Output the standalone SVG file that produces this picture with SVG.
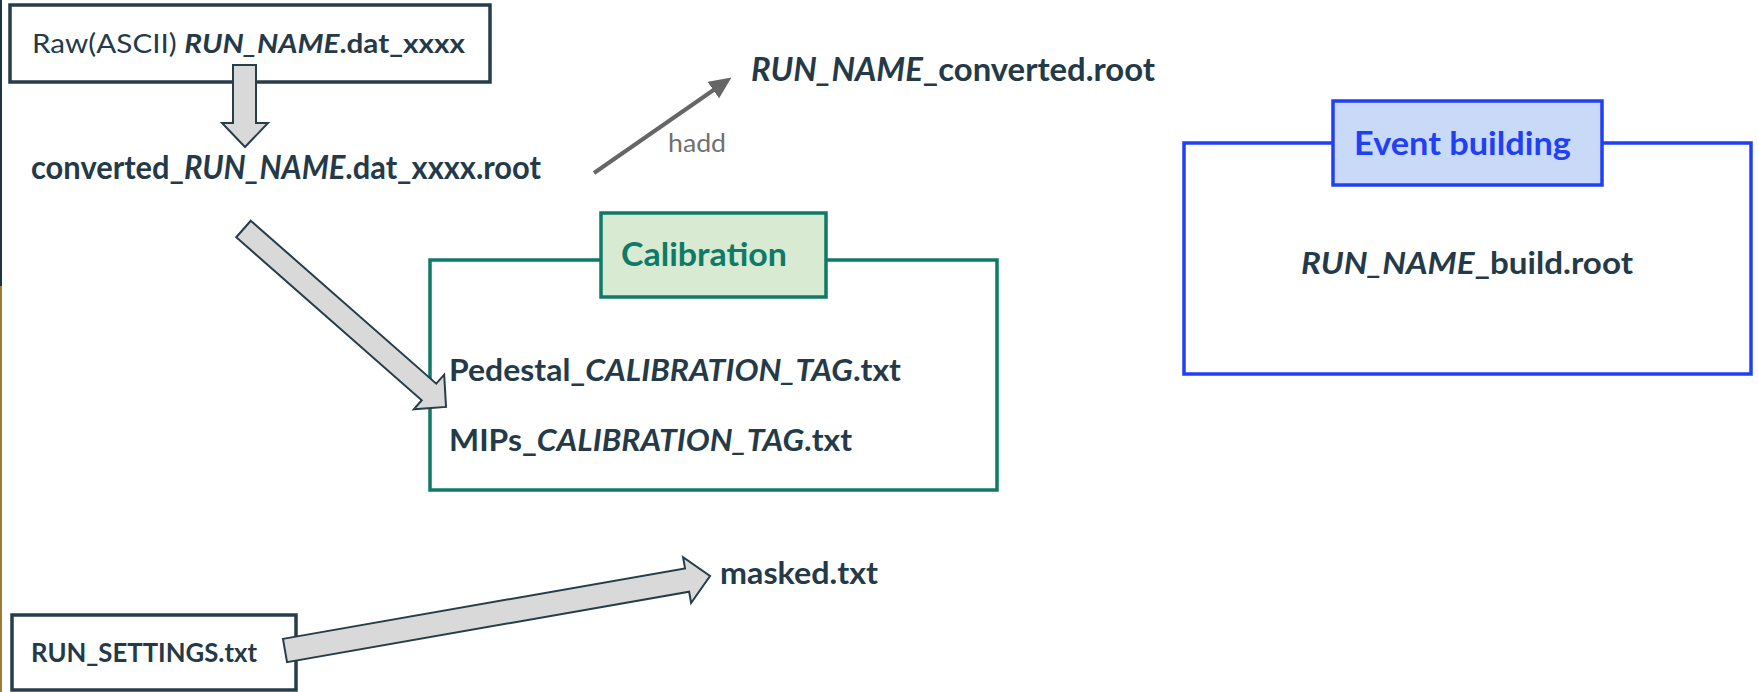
<svg xmlns="http://www.w3.org/2000/svg" width="1758" height="692" viewBox="0 0 1758 692">
<style>
  .t { font-family: Lato, "Open Sans", "Liberation Sans", sans-serif; fill: #243a48; }
  .b { font-weight: bold; }
  .i { font-style: italic; font-weight: bold; }
  .box { fill: #ffffff; stroke: #263d4a; stroke-width: 3.5; }
  .teal { fill: #ffffff; stroke: #0e7a67; stroke-width: 3.5; }
  .tealT { fill: #d9ead3; stroke: #0e7a67; stroke-width: 3.5; }
  .blue { fill: #ffffff; stroke: #1f40f5; stroke-width: 3.5; }
  .blueT { fill: #c9daf8; stroke: #1f40f5; stroke-width: 3.5; }
  .blk { fill: #d9d9d9; stroke: #263d4a; stroke-width: 2; stroke-linejoin: miter; }
  .thin { stroke: #666666; stroke-width: 4; fill: none; }
</style>
<defs>
  <marker id="ah" markerUnits="userSpaceOnUse" viewBox="0 0 22 20" markerWidth="22" markerHeight="20" refX="2" refY="10" orient="auto">
    <path d="M0,0 L22,10 L0,20 z" fill="#666666"/>
  </marker>
</defs>
<rect width="1758" height="692" fill="#ffffff"/>
<rect x="0" y="0" width="2" height="286" fill="#1f3543"/>
<rect x="0" y="286" width="2" height="406" fill="#9a7b3a"/>

<g id="raw">
  <rect class="box" x="10" y="5" width="480" height="77"/>
  <text class="t" x="32" y="53" font-size="27.5" textLength="433" lengthAdjust="spacingAndGlyphs">Raw(ASCII) <tspan class="i">RUN_NAME</tspan><tspan class="b">.dat_xxxx</tspan></text>
</g>

<g id="converted">
  <text class="t b" x="31" y="179" font-size="31.5" textLength="510" lengthAdjust="spacingAndGlyphs">converted_<tspan class="i">RUN_NAME</tspan>.dat_xxxx.root</text>
</g>

<g id="merged">
  <text class="t b" x="751" y="81" font-size="31.5" textLength="404" lengthAdjust="spacingAndGlyphs"><tspan class="i">RUN_NAME</tspan>_converted.root</text>
</g>

<g id="calibration">
  <rect class="teal" x="430" y="260" width="567" height="230"/>
  <rect class="tealT" x="601" y="213" width="225" height="84"/>
  <text class="t b" x="621" y="266" font-size="33" style="fill:#0e7a67" textLength="166" lengthAdjust="spacingAndGlyphs">Calibration</text>
  <text class="t b" x="449" y="381" font-size="30.5" textLength="452" lengthAdjust="spacingAndGlyphs">Pedestal_<tspan class="i">CALIBRATION_TAG</tspan>.txt</text>
  <text class="t b" x="449" y="451" font-size="30.5" textLength="403" lengthAdjust="spacingAndGlyphs">MIPs_<tspan class="i">CALIBRATION_TAG</tspan>.txt</text>
</g>

<g id="event-building">
  <rect class="blue" x="1184" y="143" width="567" height="231"/>
  <rect class="blueT" x="1333" y="101" width="269" height="84"/>
  <text class="t b" x="1354" y="155" font-size="33" style="fill:#1f40f5" textLength="217" lengthAdjust="spacingAndGlyphs">Event building</text>
  <text class="t b" x="1301" y="274" font-size="30.5" textLength="332" lengthAdjust="spacingAndGlyphs"><tspan class="i">RUN_NAME</tspan>_build.root</text>
</g>

<g id="run-settings">
  <rect class="box" x="12" y="615" width="284" height="75"/>
  <text class="t b" x="31" y="662" font-size="26.5" textLength="226" lengthAdjust="spacingAndGlyphs">RUN_SETTINGS.txt</text>
</g>

<g id="masked">
  <text class="t b" x="720" y="584" font-size="30.5" textLength="158" lengthAdjust="spacingAndGlyphs">masked.txt</text>
</g>

<g id="connectors">
  <polygon class="blk" points="233,65 256,65 256,123 268,123 245,147 222,123 233,123"/>
  <line class="thin" x1="594" y1="173" x2="715" y2="89" marker-end="url(#ah)"/>
  <text x="668" y="152" font-family="Lato, 'Open Sans', 'Liberation Sans', sans-serif" font-size="25" fill="#707070" textLength="58" lengthAdjust="spacingAndGlyphs">hadd</text>
  <polygon class="blk" transform="translate(243.5,229) rotate(41.3)" points="0,-11 246.9,-11 246.9,-23 269.6,0 246.9,23 246.9,11 0,11"/>
  <polygon class="blk" transform="translate(285,650.5) rotate(-9.94)" points="0,-11.8 408.2,-11.8 408.2,-23.3 431.5,0 408.2,23.3 408.2,11.8 0,11.8"/>
</g>
</svg>
